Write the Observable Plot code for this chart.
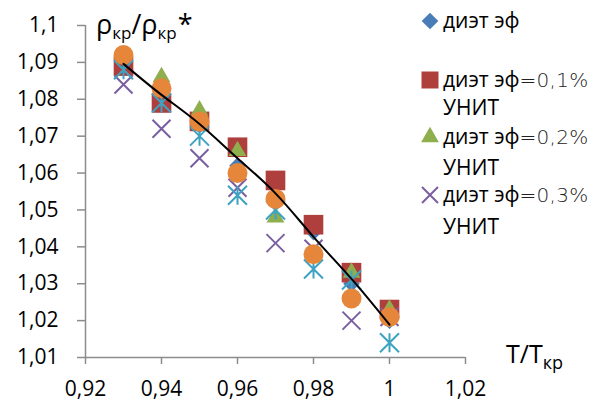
<!DOCTYPE html>
<html>
<head>
<meta charset="utf-8">
<script src="https://cdn.jsdelivr.net/npm/d3@7"></script>
<script src="https://cdn.jsdelivr.net/npm/@observablehq/plot@0.6"></script>
<style>
  html, body { margin: 0; padding: 0; background: #fff; }
  #wrap { position: relative; width: 593px; height: 405px; overflow: hidden; font-family: "Open Sans", sans-serif; }
  #overlay { position: absolute; left: 0; top: 0; pointer-events: none; }
</style>
</head>
<body>
<div id="wrap"></div>
<script>
// ---- data ----
const temps = [0.93, 0.94, 0.95, 0.96, 0.97, 0.98, 0.99, 1.0];
const diet   = [1.089, 1.081, 1.073, 1.062, 1.057, 1.044, 1.030, 1.020];
const diet01 = [1.089, 1.079, 1.074, 1.067, 1.058, 1.046, 1.033, 1.023];
const diet02 = [1.092, 1.086, 1.077, 1.066, 1.048, 1.0375, 1.033, 1.023];
const diet03 = [1.084, 1.072, 1.064, 1.056, 1.041, 1.0395, 1.020, 1.021];
const series5 = [1.088, 1.079, 1.070, 1.054, 1.050, 1.034, 1.031, 1.014];
const series6 = [1.092, 1.083, 1.074, 1.060, 1.053, 1.038, 1.026, 1.021];
const trendY = [1.0896, 1.0812, 1.0733, 1.0640, 1.0545, 1.0427, 1.0313, 1.0189];

const xTicks = [0.92, 0.94, 0.96, 0.98, 1.0, 1.02];
const xTickLabels = ["0,92", "0,94", "0,96", "0,98", "1", "1,02"];
const yTicks = [1.01, 1.02, 1.03, 1.04, 1.05, 1.06, 1.07, 1.08, 1.09, 1.1];
const yTickLabels = ["1,01", "1,02", "1,03", "1,04", "1,05", "1,06", "1,07", "1,08", "1,09", "1,1"];

const legendLabels = ["диэт эф", "диэт эф=0,1% УНИТ", "диэт эф=0,2% УНИТ", "диэт эф=0,3% УНИТ"];

// ---- styles ----
const C = {
  blue: "#4a7cb8", red: "#ae3f3c", green: "#8fae4e",
  purple: "#7a5fa0", teal: "#3ea3c2", orange: "#e5863a", axis: "#8c8c8c"
};

// Excel-like "star" marker: vertical line + X
const star = {
  draw(ctx, size) {
    const r = Math.sqrt(size / Math.PI);
    ctx.moveTo(0, -r); ctx.lineTo(0, r);
    ctx.moveTo(-r, -r); ctx.lineTo(r, r);
    ctx.moveTo(-r, r); ctx.lineTo(r, -r);
  }
};
const cross = {
  draw(ctx, size) {
    const r = Math.sqrt(size / Math.PI);
    ctx.moveTo(-r, -r); ctx.lineTo(r, r);
    ctx.moveTo(-r, r); ctx.lineTo(r, -r);
  }
};

const rows = (vals) => temps.map((t, i) => ({t, v: vals[i]}));
const trend = temps.map((t, i) => ({t, v: trendY[i]}));
const xLab = new Map(xTicks.map((d, i) => [d, xTickLabels[i]]));
const yLab = new Map(yTicks.map((d, i) => [d, yTickLabels[i]]));

const chart = Plot.plot({
  width: 593, height: 405,
  marginLeft: 85, marginRight: 128, marginTop: 25, marginBottom: 48,
  x: {domain: [0.92, 1.02]},
  y: {domain: [1.01, 1.1]},
  style: {fontFamily: "Open Sans", fontSize: "21px", color: "#000", background: "#fff"},
  marks: [
    Plot.axisX({ticks: xTicks, tickFormat: d => xLab.get(d), tickSize: 7, tickPadding: 17, stroke: C.axis, fill: "#000", strokeWidth: 1.5, label: null}),
    Plot.axisY({ticks: yTicks, tickFormat: d => yLab.get(d), tickSize: 8, tickPadding: 19, stroke: C.axis, fill: "#000", strokeWidth: 1.5, label: null}),
    Plot.ruleY([1.01], {stroke: C.axis, strokeWidth: 1.5}),
    Plot.ruleX([0.92], {stroke: C.axis, strokeWidth: 1.5}),
    Plot.dot(rows(diet), {x: "t", y: "v", symbol: "diamond2", r: 7.5, fill: C.blue}),
    Plot.dot(rows(diet01), {x: "t", y: "v", symbol: "square2", r: 12.5, fill: C.red}),
    Plot.dot(rows(diet02), {x: "t", y: "v", symbol: "triangle2", r: 8.5, fill: C.green}),
    Plot.dot(rows(diet03), {x: "t", y: "v", symbol: cross, r: 9, stroke: C.purple, strokeWidth: 2, fill: "none"}),
    Plot.dot(rows(series5), {x: "t", y: "v", symbol: star, r: 9.5, stroke: C.teal, strokeWidth: 2, fill: "none"}),
    Plot.dot(rows(series6), {x: "t", y: "v", symbol: "circle", r: 10, fill: C.orange}),
    Plot.line(trend, {x: "t", y: "v", curve: "natural", stroke: "#000", strokeWidth: 2})
  ]
});
document.getElementById("wrap").appendChild(chart);

// ---- overlay: axis titles and legend ----
const ov = d3.select("#wrap").append("svg").attr("id", "overlay")
  .attr("width", 593).attr("height", 405)
  .style("font-family", "Open Sans");

// y title: ρкр/ρкр*
const yt = ov.append("text").attr("x", 96).attr("y", 34).attr("font-size", 27).attr("fill", "#000");
yt.append("tspan").text("ρ");
yt.append("tspan").attr("font-size", 17).attr("dy", 5).text("кр");
yt.append("tspan").attr("dy", -5).text("/ρ");
yt.append("tspan").attr("font-size", 17).attr("dy", 5).text("кр");
yt.append("tspan").attr("dy", -5).attr("dx", 1).text("*");

// x title: T/Tкр
const xt = ov.append("text").attr("x", 506).attr("y", 363).attr("font-size", 25).attr("fill", "#000");
xt.append("tspan").text("T/T");
xt.append("tspan").attr("font-size", 18).attr("dy", 6).text("кр");

// legend
const lg = ov.append("g");
const sym = (type, r) => d3.symbol(type, r * r * Math.PI)();
const markers = [
  {y: 21, path: sym(d3.symbolDiamond2, 7.5), fill: C.blue},
  {y: 80, path: "M-8.5,-8.5H8.5V8.5H-8.5Z", fill: C.red},
  {y: 137, path: sym(d3.symbolTriangle2, 8.5), fill: C.green},
  {y: 195, path: "M-8,-8L8,8M-8,8L8,-8", stroke: C.purple}
];
markers.forEach(m => {
  lg.append("path").attr("transform", `translate(430,${m.y})`).attr("d", m.path)
    .attr("fill", m.fill || "none").attr("stroke", m.stroke || "none").attr("stroke-width", 2);
});
const lineYs = [[21], [80, 108], [137, 168], [195, 227]];
legendLabels.forEach((lab, i) => {
  const first = lab.split(" УНИТ")[0];
  const t = lg.append("text").attr("x", 443).attr("y", lineYs[i][0] + 7).attr("font-size", 21).attr("fill", "#000");
  const eq = first.indexOf("=");
  if (eq < 0) {
    t.text(first);
  } else {
    t.append("tspan").text(first.slice(0, eq));
    t.append("tspan").attr("font-family", "DejaVu Sans").attr("font-weight", 200)
      .attr("fill", "#222").attr("font-size", 20).attr("letter-spacing", 0.3).text(first.slice(eq));
  }
  if (lineYs[i][1]) {
    lg.append("text").attr("x", 443).attr("y", lineYs[i][1] + 7).attr("font-size", 21).attr("fill", "#000").text("УНИТ");
  }
});
</script>
</body>
</html>
